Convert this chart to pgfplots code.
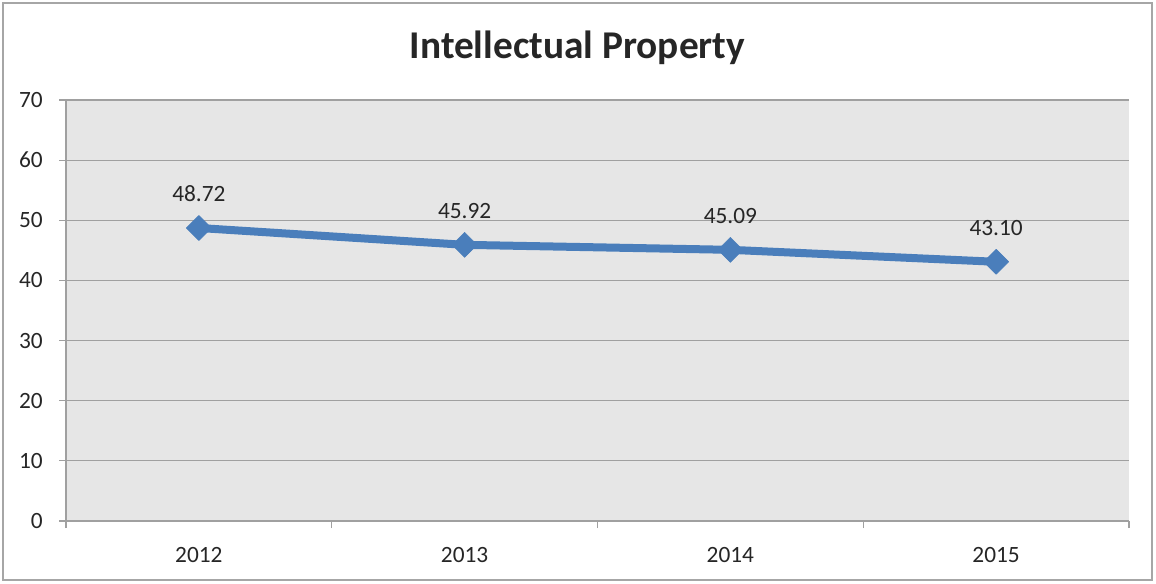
\documentclass[border=0pt]{standalone}
\usepackage{pgfplots}
\pgfplotsset{compat=1.18}
\usepackage{fontspec}
\setmainfont{Carlito}
\definecolor{lineblue}{HTML}{4A7EBB}
\definecolor{plotbg}{HTML}{E6E6E6}
\definecolor{gridgray}{HTML}{A0A0A0}
\definecolor{bordergray}{HTML}{A6A6A6}
\definecolor{txt}{HTML}{262626}
\begin{document}
\begin{tikzpicture}
\fill[white] (0pt,0pt) rectangle (867pt,-437.25pt);
\draw[bordergray, line width=1.5pt] (2.25pt,-2.25pt) rectangle (864pt,-435pt);
\node[font=\fontsize{29.5}{34}\selectfont\bfseries, text=txt] at (433pt,-35.5pt) {Intellectual Property};
\begin{axis}[
  at={(49.5pt,-390.75pt)}, anchor=south west,
  scale only axis, width=797.25pt, height=315.75pt,
  xmin=-0.5, xmax=3.5, ymin=0, ymax=70,
  axis x line=bottom, axis y line=left,
  axis line style={-, draw=gridgray, line width=0.9pt},
  axis background/.style={fill=plotbg},
  xtick={0,1,2,3}, xticklabels={2012,2013,2014,2015},
  minor xtick={-0.5,0.5,1.5,2.5,3.5},
  ytick={0,10,...,70},
  tick align=outside,
  major x tick style={draw=none},
  major tick length=5.25pt, minor tick length=5.25pt,
  every tick/.style={draw=gridgray, line width=0.9pt},
  ymajorgrids, major grid style={draw=gridgray, line width=0.9pt},
  /pgf/number format/assume math mode=true,
  tick label style={font=\fontsize{17.5}{21}\selectfont, text=txt},
  yticklabel style={inner sep=0pt, anchor=east, xshift=-12pt},
  xticklabel style={inner sep=0pt, anchor=north, yshift=-14pt},
  clip=false,
]
\addplot[lineblue, line width=6pt, line join=round,
  mark=square*, mark size=6.6pt,
  mark options={rotate=45, line width=0.5pt, fill=lineblue, draw=lineblue},
  nodes near coords={\pgfmathprintnumber[fixed,fixed zerofill,precision=2]{\pgfplotspointmeta}},
  nodes near coords style={font=\fontsize{17.5}{21}\selectfont, text=txt, anchor=base, inner sep=0pt, yshift=20pt},
] coordinates {(0,48.72) (1,45.92) (2,45.09) (3,43.10)};
\end{axis}
\end{tikzpicture}
\end{document}
